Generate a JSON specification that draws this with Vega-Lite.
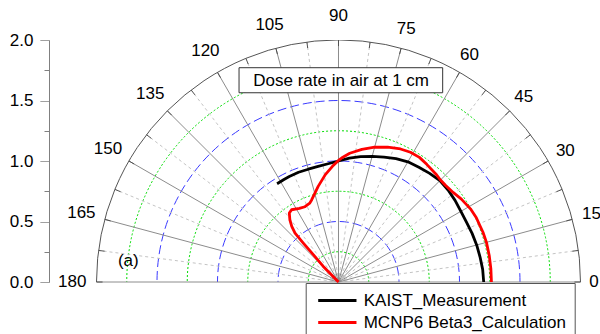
{
  "$schema": "https://vega.github.io/schema/vega-lite/v6.json",
  "width": 551,
  "height": 242,
  "autosize": {"type": "none"},
  "padding": {"left": 49, "top": 40, "right": 0, "bottom": 52},
  "background": "white",
  "config": {"view": {"stroke": null}, "font": "Liberation Sans"},
  "datasets": {
    "grid": [
      {"r": 0.25, "kind": "minor"}, {"r": 0.5, "kind": "major"}, {"r": 0.75, "kind": "minor"},
      {"r": 1.0, "kind": "major"}, {"r": 1.25, "kind": "minor"}, {"r": 1.5, "kind": "major"},
      {"r": 1.75, "kind": "minor"}, {"r": 2.0, "kind": "outer"}
    ],
    "spokes": [
      {"angle": 0, "kind": "major"}, {"angle": 7.5, "kind": "minor"}, {"angle": 15, "kind": "major"},
      {"angle": 22.5, "kind": "minor"}, {"angle": 30, "kind": "major"}, {"angle": 37.5, "kind": "minor"},
      {"angle": 45, "kind": "major"}, {"angle": 52.5, "kind": "minor"}, {"angle": 60, "kind": "major"},
      {"angle": 67.5, "kind": "minor"}, {"angle": 75, "kind": "major"}, {"angle": 82.5, "kind": "minor"},
      {"angle": 90, "kind": "major"}, {"angle": 97.5, "kind": "minor"}, {"angle": 105, "kind": "major"},
      {"angle": 112.5, "kind": "minor"}, {"angle": 120, "kind": "major"}, {"angle": 127.5, "kind": "minor"},
      {"angle": 135, "kind": "major"}, {"angle": 142.5, "kind": "minor"}, {"angle": 150, "kind": "major"},
      {"angle": 157.5, "kind": "minor"}, {"angle": 165, "kind": "major"}, {"angle": 172.5, "kind": "minor"},
      {"angle": 180, "kind": "major"}
    ],
    "labels": [
      {"angle": 0, "label": "0"}, {"angle": 15, "label": "15"}, {"angle": 30, "label": "30"},
      {"angle": 45, "label": "45"}, {"angle": 60, "label": "60"}, {"angle": 75, "label": "75"},
      {"angle": 90, "label": "90"}, {"angle": 105, "label": "105"}, {"angle": 120, "label": "120"},
      {"angle": 135, "label": "135"}, {"angle": 150, "label": "150"}, {"angle": 165, "label": "165"},
      {"angle": 180, "label": "180"}
    ],
    "curves": [
      {"series": "KAIST_Measurement", "angle": 0, "r": 1.2},
      {"series": "KAIST_Measurement", "angle": 5, "r": 1.196},
      {"series": "KAIST_Measurement", "angle": 10, "r": 1.188},
      {"series": "KAIST_Measurement", "angle": 15, "r": 1.182},
      {"series": "KAIST_Measurement", "angle": 20, "r": 1.175},
      {"series": "KAIST_Measurement", "angle": 25, "r": 1.168},
      {"series": "KAIST_Measurement", "angle": 30, "r": 1.168},
      {"series": "KAIST_Measurement", "angle": 35, "r": 1.176},
      {"series": "KAIST_Measurement", "angle": 40, "r": 1.182},
      {"series": "KAIST_Measurement", "angle": 45, "r": 1.185},
      {"series": "KAIST_Measurement", "angle": 50, "r": 1.172},
      {"series": "KAIST_Measurement", "angle": 55, "r": 1.158},
      {"series": "KAIST_Measurement", "angle": 60, "r": 1.147},
      {"series": "KAIST_Measurement", "angle": 65, "r": 1.125},
      {"series": "KAIST_Measurement", "angle": 70, "r": 1.099},
      {"series": "KAIST_Measurement", "angle": 75, "r": 1.075},
      {"series": "KAIST_Measurement", "angle": 80, "r": 1.052},
      {"series": "KAIST_Measurement", "angle": 85, "r": 1.027},
      {"series": "KAIST_Measurement", "angle": 90, "r": 1.0},
      {"series": "KAIST_Measurement", "angle": 95, "r": 0.981},
      {"series": "KAIST_Measurement", "angle": 100, "r": 0.97},
      {"series": "KAIST_Measurement", "angle": 105, "r": 0.965},
      {"series": "KAIST_Measurement", "angle": 110, "r": 0.965},
      {"series": "KAIST_Measurement", "angle": 115, "r": 0.962},
      {"series": "KAIST_Measurement", "angle": 118, "r": 0.96},
      {"series": "KAIST_Measurement", "angle": 122, "r": 0.958},
      {"series": "MCNP6 Beta3_Calculation", "angle": 0, "r": 1.264},
      {"series": "MCNP6 Beta3_Calculation", "angle": 5, "r": 1.264},
      {"series": "MCNP6 Beta3_Calculation", "angle": 10, "r": 1.265},
      {"series": "MCNP6 Beta3_Calculation", "angle": 15, "r": 1.266},
      {"series": "MCNP6 Beta3_Calculation", "angle": 19, "r": 1.263},
      {"series": "MCNP6 Beta3_Calculation", "angle": 22, "r": 1.258},
      {"series": "MCNP6 Beta3_Calculation", "angle": 25, "r": 1.257},
      {"series": "MCNP6 Beta3_Calculation", "angle": 29, "r": 1.247},
      {"series": "MCNP6 Beta3_Calculation", "angle": 34, "r": 1.225},
      {"series": "MCNP6 Beta3_Calculation", "angle": 38, "r": 1.202},
      {"series": "MCNP6 Beta3_Calculation", "angle": 42, "r": 1.192},
      {"series": "MCNP6 Beta3_Calculation", "angle": 45, "r": 1.192},
      {"series": "MCNP6 Beta3_Calculation", "angle": 48, "r": 1.202},
      {"series": "MCNP6 Beta3_Calculation", "angle": 53, "r": 1.215},
      {"series": "MCNP6 Beta3_Calculation", "angle": 57, "r": 1.228},
      {"series": "MCNP6 Beta3_Calculation", "angle": 61, "r": 1.226},
      {"series": "MCNP6 Beta3_Calculation", "angle": 65, "r": 1.213},
      {"series": "MCNP6 Beta3_Calculation", "angle": 70, "r": 1.187},
      {"series": "MCNP6 Beta3_Calculation", "angle": 75, "r": 1.153},
      {"series": "MCNP6 Beta3_Calculation", "angle": 80, "r": 1.113},
      {"series": "MCNP6 Beta3_Calculation", "angle": 85, "r": 1.068},
      {"series": "MCNP6 Beta3_Calculation", "angle": 88, "r": 1.032},
      {"series": "MCNP6 Beta3_Calculation", "angle": 90, "r": 1.005},
      {"series": "MCNP6 Beta3_Calculation", "angle": 93, "r": 0.957},
      {"series": "MCNP6 Beta3_Calculation", "angle": 97, "r": 0.894},
      {"series": "MCNP6 Beta3_Calculation", "angle": 102, "r": 0.808},
      {"series": "MCNP6 Beta3_Calculation", "angle": 108, "r": 0.715},
      {"series": "MCNP6 Beta3_Calculation", "angle": 110, "r": 0.694},
      {"series": "MCNP6 Beta3_Calculation", "angle": 114, "r": 0.681},
      {"series": "MCNP6 Beta3_Calculation", "angle": 118, "r": 0.689},
      {"series": "MCNP6 Beta3_Calculation", "angle": 123, "r": 0.712},
      {"series": "MCNP6 Beta3_Calculation", "angle": 125.5, "r": 0.7},
      {"series": "MCNP6 Beta3_Calculation", "angle": 128, "r": 0.653},
      {"series": "MCNP6 Beta3_Calculation", "angle": 130, "r": 0.601},
      {"series": "MCNP6 Beta3_Calculation", "angle": 131.6, "r": 0.541},
      {"series": "MCNP6 Beta3_Calculation", "angle": 132.1, "r": 0.434},
      {"series": "MCNP6 Beta3_Calculation", "angle": 132.7, "r": 0.307},
      {"series": "MCNP6 Beta3_Calculation", "angle": 134.3, "r": 0.18},
      {"series": "MCNP6 Beta3_Calculation", "angle": 135, "r": 0.0}
    ]
  },
  "layer": [
    {
      "data": {"name": "grid"},
      "transform": [{"filter": "datum.kind == 'minor'"}, {"calculate": "0", "as": "c0"}],
      "mark": {"type": "point", "shape": "circle", "filled": false, "opacity": 1, "stroke": "#00dd00", "strokeWidth": 1, "strokeDash": [2, 2], "clip": true},
      "encoding": {
        "x": {"field": "c0", "type": "quantitative", "scale": {"domain": [-2.3926, 2.1612], "nice": false, "zero": false}, "axis": null},
        "y": {"field": "c0", "type": "quantitative", "scale": {"domain": [0, 2], "nice": false, "zero": false},
          "axis": {"title": null, "values": [0, 0.25, 0.5, 0.75, 1, 1.25, 1.5, 1.75, 2],
            "labelExpr": "datum.value % 0.5 == 0 ? format(datum.value, '.1f') : ''",
            "tickSize": 9,
            "tickDash": {"condition": {"test": "datum.value % 0.5 != 0", "value": [5, 20]}, "value": [1, 0]},
            "domainColor": "#808080", "tickColor": "#808080", "labelFontSize": 17, "labelColor": "#000000",
            "labelFont": "Liberation Sans", "labelPadding": 7, "grid": false, "labelFlush": false, "labelOverlap": false}},
        "size": {"field": "r", "type": "quantitative", "scale": {"type": "pow", "exponent": 2, "domain": [0, 2], "range": [0, 234256], "zero": true, "nice": false}, "legend": null}
      }
    },
    {
      "data": {"name": "grid"},
      "transform": [{"filter": "datum.kind == 'major'"}, {"calculate": "0", "as": "c0"}],
      "mark": {"type": "point", "shape": "circle", "filled": false, "opacity": 1, "stroke": "#3a3aff", "strokeWidth": 1, "strokeDash": [9, 4], "clip": true},
      "encoding": {
        "x": {"field": "c0", "type": "quantitative", "scale": {"domain": [-2.3926, 2.1612], "nice": false, "zero": false}, "axis": null},
        "y": {"field": "c0", "type": "quantitative", "scale": {"domain": [0, 2], "nice": false, "zero": false},
          "axis": {"title": null, "values": [0, 0.25, 0.5, 0.75, 1, 1.25, 1.5, 1.75, 2],
            "labelExpr": "datum.value % 0.5 == 0 ? format(datum.value, '.1f') : ''",
            "tickSize": 9,
            "tickDash": {"condition": {"test": "datum.value % 0.5 != 0", "value": [5, 20]}, "value": [1, 0]},
            "domainColor": "#808080", "tickColor": "#808080", "labelFontSize": 17, "labelColor": "#000000",
            "labelFont": "Liberation Sans", "labelPadding": 7, "grid": false, "labelFlush": false, "labelOverlap": false}},
        "size": {"field": "r", "type": "quantitative", "scale": {"type": "pow", "exponent": 2, "domain": [0, 2], "range": [0, 234256], "zero": true, "nice": false}, "legend": null}
      }
    },
    {
      "data": {"name": "spokes"},
      "transform": [
        {"filter": "datum.kind == 'minor'"},
        {"calculate": "0", "as": "c0"},
        {"calculate": "2*cos(datum.angle*PI/180)", "as": "x2"},
        {"calculate": "2*sin(datum.angle*PI/180)", "as": "y2"}
      ],
      "mark": {"type": "rule", "stroke": "#c4c4c4", "strokeWidth": 1, "strokeDash": [3, 3]},
      "encoding": {
        "x": {"field": "c0", "type": "quantitative", "scale": {"domain": [-2.3926, 2.1612], "nice": false, "zero": false}, "axis": null},
        "y": {"field": "c0", "type": "quantitative", "scale": {"domain": [0, 2], "nice": false, "zero": false},
          "axis": {"title": null, "values": [0, 0.25, 0.5, 0.75, 1, 1.25, 1.5, 1.75, 2],
            "labelExpr": "datum.value % 0.5 == 0 ? format(datum.value, '.1f') : ''",
            "tickSize": 9,
            "tickDash": {"condition": {"test": "datum.value % 0.5 != 0", "value": [5, 20]}, "value": [1, 0]},
            "domainColor": "#808080", "tickColor": "#808080", "labelFontSize": 17, "labelColor": "#000000",
            "labelFont": "Liberation Sans", "labelPadding": 7, "grid": false, "labelFlush": false, "labelOverlap": false}},
        "x2": {"field": "x2"},
        "y2": {"field": "y2"}
      }
    },
    {
      "data": {"name": "spokes"},
      "transform": [
        {"filter": "datum.kind == 'major'"},
        {"calculate": "0", "as": "c0"},
        {"calculate": "2*cos(datum.angle*PI/180)", "as": "x2"},
        {"calculate": "2*sin(datum.angle*PI/180)", "as": "y2"}
      ],
      "mark": {"type": "rule", "stroke": "#8c8c8c", "strokeWidth": 1},
      "encoding": {
        "x": {"field": "c0", "type": "quantitative", "scale": {"domain": [-2.3926, 2.1612], "nice": false, "zero": false}, "axis": null},
        "y": {"field": "c0", "type": "quantitative", "scale": {"domain": [0, 2], "nice": false, "zero": false},
          "axis": {"title": null, "values": [0, 0.25, 0.5, 0.75, 1, 1.25, 1.5, 1.75, 2],
            "labelExpr": "datum.value % 0.5 == 0 ? format(datum.value, '.1f') : ''",
            "tickSize": 9,
            "tickDash": {"condition": {"test": "datum.value % 0.5 != 0", "value": [5, 20]}, "value": [1, 0]},
            "domainColor": "#808080", "tickColor": "#808080", "labelFontSize": 17, "labelColor": "#000000",
            "labelFont": "Liberation Sans", "labelPadding": 7, "grid": false, "labelFlush": false, "labelOverlap": false}},
        "x2": {"field": "x2"},
        "y2": {"field": "y2"}
      }
    },
    {
      "data": {"name": "spokes"},
      "transform": [
        {"calculate": "1.95*cos(datum.angle*PI/180)", "as": "x1"},
        {"calculate": "1.95*sin(datum.angle*PI/180)", "as": "y1"},
        {"calculate": "2*cos(datum.angle*PI/180)", "as": "x2"},
        {"calculate": "2*sin(datum.angle*PI/180)", "as": "y2"}
      ],
      "mark": {"type": "rule", "stroke": "#505050", "strokeWidth": 1},
      "encoding": {
        "x": {"field": "x1", "type": "quantitative", "scale": {"domain": [-2.3926, 2.1612], "nice": false, "zero": false}, "axis": null},
        "y": {"field": "y1", "type": "quantitative", "scale": {"domain": [0, 2], "nice": false, "zero": false},
          "axis": {"title": null, "values": [0, 0.25, 0.5, 0.75, 1, 1.25, 1.5, 1.75, 2],
            "labelExpr": "datum.value % 0.5 == 0 ? format(datum.value, '.1f') : ''",
            "tickSize": 9,
            "tickDash": {"condition": {"test": "datum.value % 0.5 != 0", "value": [5, 20]}, "value": [1, 0]},
            "domainColor": "#808080", "tickColor": "#808080", "labelFontSize": 17, "labelColor": "#000000",
            "labelFont": "Liberation Sans", "labelPadding": 7, "grid": false, "labelFlush": false, "labelOverlap": false}},
        "x2": {"field": "x2"},
        "y2": {"field": "y2"}
      }
    },
    {
      "data": {"name": "grid"},
      "transform": [{"filter": "datum.kind == 'outer'"}, {"calculate": "0", "as": "c0"}],
      "mark": {"type": "point", "shape": "circle", "filled": false, "opacity": 1, "stroke": "#555555", "strokeWidth": 1, "clip": true},
      "encoding": {
        "x": {"field": "c0", "type": "quantitative", "scale": {"domain": [-2.3926, 2.1612], "nice": false, "zero": false}, "axis": null},
        "y": {"field": "c0", "type": "quantitative", "scale": {"domain": [0, 2], "nice": false, "zero": false},
          "axis": {"title": null, "values": [0, 0.25, 0.5, 0.75, 1, 1.25, 1.5, 1.75, 2],
            "labelExpr": "datum.value % 0.5 == 0 ? format(datum.value, '.1f') : ''",
            "tickSize": 9,
            "tickDash": {"condition": {"test": "datum.value % 0.5 != 0", "value": [5, 20]}, "value": [1, 0]},
            "domainColor": "#808080", "tickColor": "#808080", "labelFontSize": 17, "labelColor": "#000000",
            "labelFont": "Liberation Sans", "labelPadding": 7, "grid": false, "labelFlush": false, "labelOverlap": false}},
        "size": {"field": "r", "type": "quantitative", "scale": {"type": "pow", "exponent": 2, "domain": [0, 2], "range": [0, 234256], "zero": true, "nice": false}, "legend": null}
      }
    },
    {
      "data": {"name": "curves"},
      "transform": [
        {"calculate": "datum.r*cos(datum.angle*PI/180)", "as": "x"},
        {"calculate": "datum.r*sin(datum.angle*PI/180)", "as": "y"}
      ],
      "mark": {"type": "line", "strokeWidth": 2.8, "strokeJoin": "round"},
      "encoding": {
        "x": {"field": "x", "type": "quantitative", "scale": {"domain": [-2.3926, 2.1612], "nice": false, "zero": false}, "axis": null},
        "y": {"field": "y", "type": "quantitative", "scale": {"domain": [0, 2], "nice": false, "zero": false},
          "axis": {"title": null, "values": [0, 0.25, 0.5, 0.75, 1, 1.25, 1.5, 1.75, 2],
            "labelExpr": "datum.value % 0.5 == 0 ? format(datum.value, '.1f') : ''",
            "tickSize": 9,
            "tickDash": {"condition": {"test": "datum.value % 0.5 != 0", "value": [5, 20]}, "value": [1, 0]},
            "domainColor": "#808080", "tickColor": "#808080", "labelFontSize": 17, "labelColor": "#000000",
            "labelFont": "Liberation Sans", "labelPadding": 7, "grid": false, "labelFlush": false, "labelOverlap": false}},
        "order": {"field": "angle", "type": "quantitative"},
        "stroke": {"field": "series", "type": "nominal",
          "scale": {"domain": ["KAIST_Measurement", "MCNP6 Beta3_Calculation"], "range": ["#000000", "#ff0000"]},
          "legend": {"orient": "none", "legendX": 256.7, "legendY": 243, "title": null, "padding": 8,
            "strokeColor": "#555555", "fillColor": "#ffffff", "symbolType": "M-0.625,0H4.16", "symbolSize": 256,
            "symbolStrokeWidth": 3, "labelFontSize": 17, "labelFont": "Liberation Sans", "labelColor": "#000000",
            "labelOffset": 31, "rowPadding": 4, "labelLimit": 400}}
      }
    },
    {
      "data": {"values": [{"label": "Dose rate in air at 1 cm", "x1": -0.822, "x2": 0.861, "y1": 1.771, "y2": 1.564}]},
      "mark": {"type": "rect", "fill": "#ffffff", "stroke": "#333333", "strokeWidth": 1},
      "encoding": {
        "x": {"field": "x1", "type": "quantitative", "scale": {"domain": [-2.3926, 2.1612], "nice": false, "zero": false}, "axis": null},
        "x2": {"field": "x2"},
        "y": {"field": "y1", "type": "quantitative", "scale": {"domain": [0, 2], "nice": false, "zero": false},
          "axis": {"title": null, "values": [0, 0.25, 0.5, 0.75, 1, 1.25, 1.5, 1.75, 2],
            "labelExpr": "datum.value % 0.5 == 0 ? format(datum.value, '.1f') : ''",
            "tickSize": 9,
            "tickDash": {"condition": {"test": "datum.value % 0.5 != 0", "value": [5, 20]}, "value": [1, 0]},
            "domainColor": "#808080", "tickColor": "#808080", "labelFontSize": 17, "labelColor": "#000000",
            "labelFont": "Liberation Sans", "labelPadding": 7, "grid": false, "labelFlush": false, "labelOverlap": false}},
        "y2": {"field": "y2"}
      }
    },
    {
      "data": {"values": [{"label": "Dose rate in air at 1 cm", "x": 0.022, "y": 1.622}]},
      "mark": {"type": "text", "fontSize": 17, "font": "Liberation Sans", "color": "#000000", "align": "center", "baseline": "alphabetic"},
      "encoding": {
        "x": {"field": "x", "type": "quantitative", "scale": {"domain": [-2.3926, 2.1612], "nice": false, "zero": false}, "axis": null},
        "y": {"field": "y", "type": "quantitative", "scale": {"domain": [0, 2], "nice": false, "zero": false},
          "axis": {"title": null, "values": [0, 0.25, 0.5, 0.75, 1, 1.25, 1.5, 1.75, 2],
            "labelExpr": "datum.value % 0.5 == 0 ? format(datum.value, '.1f') : ''",
            "tickSize": 9,
            "tickDash": {"condition": {"test": "datum.value % 0.5 != 0", "value": [5, 20]}, "value": [1, 0]},
            "domainColor": "#808080", "tickColor": "#808080", "labelFontSize": 17, "labelColor": "#000000",
            "labelFont": "Liberation Sans", "labelPadding": 7, "grid": false, "labelFlush": false, "labelOverlap": false}},
        "text": {"field": "label"}
      }
    },
    {
      "data": {"values": [{"label": "(a)", "x": -1.737, "y": 0.17}]},
      "mark": {"type": "text", "fontSize": 17, "font": "Liberation Sans", "color": "#000000", "align": "center", "baseline": "middle"},
      "encoding": {
        "x": {"field": "x", "type": "quantitative", "scale": {"domain": [-2.3926, 2.1612], "nice": false, "zero": false}, "axis": null},
        "y": {"field": "y", "type": "quantitative", "scale": {"domain": [0, 2], "nice": false, "zero": false},
          "axis": {"title": null, "values": [0, 0.25, 0.5, 0.75, 1, 1.25, 1.5, 1.75, 2],
            "labelExpr": "datum.value % 0.5 == 0 ? format(datum.value, '.1f') : ''",
            "tickSize": 9,
            "tickDash": {"condition": {"test": "datum.value % 0.5 != 0", "value": [5, 20]}, "value": [1, 0]},
            "domainColor": "#808080", "tickColor": "#808080", "labelFontSize": 17, "labelColor": "#000000",
            "labelFont": "Liberation Sans", "labelPadding": 7, "grid": false, "labelFlush": false, "labelOverlap": false}},
        "text": {"field": "label"}
      }
    },
    {
      "data": {"name": "labels"},
      "transform": [
        {"calculate": "datum.angle == 0 ? 2.112 : (datum.angle >= 90 ? 2.2 : 2.165)", "as": "lr"},
        {"calculate": "datum.lr*cos(datum.angle*PI/180)", "as": "lx"},
        {"calculate": "datum.lr*sin(datum.angle*PI/180)", "as": "ly"}
      ],
      "mark": {"type": "text", "fontSize": 17, "font": "Liberation Sans", "color": "#000000", "align": "center", "baseline": "middle"},
      "encoding": {
        "x": {"field": "lx", "type": "quantitative", "scale": {"domain": [-2.3926, 2.1612], "nice": false, "zero": false}, "axis": null},
        "y": {"field": "ly", "type": "quantitative", "scale": {"domain": [0, 2], "nice": false, "zero": false},
          "axis": {"title": null, "values": [0, 0.25, 0.5, 0.75, 1, 1.25, 1.5, 1.75, 2],
            "labelExpr": "datum.value % 0.5 == 0 ? format(datum.value, '.1f') : ''",
            "tickSize": 9,
            "tickDash": {"condition": {"test": "datum.value % 0.5 != 0", "value": [5, 20]}, "value": [1, 0]},
            "domainColor": "#808080", "tickColor": "#808080", "labelFontSize": 17, "labelColor": "#000000",
            "labelFont": "Liberation Sans", "labelPadding": 7, "grid": false, "labelFlush": false, "labelOverlap": false}},
        "text": {"field": "label"}
      }
    }
  ]
}
